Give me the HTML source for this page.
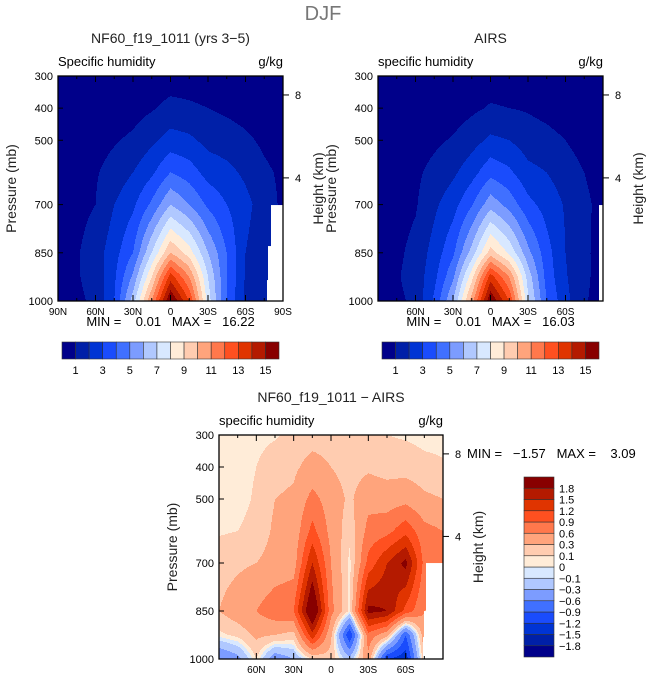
<!DOCTYPE html>
<html><head><meta charset="utf-8"><style>
html,body{margin:0;padding:0;background:#fff;}
svg{display:block;font-family:"Liberation Sans",sans-serif;}
.pre{white-space:pre;}
</style></head><body>
<svg id="fig" width="647" height="684" viewBox="0 0 647 684" xmlns="http://www.w3.org/2000/svg">
<text x="323" y="20" font-size="20" fill="#777" text-anchor="middle">DJF</text>
<g id="p1"></g>
<g id="p2"></g>
<g id="p3"></g>
</svg>
<script>
const lats=[90,75,60,45,30,15,0,-15,-30,-45,-60,-75,-90];
const levels=[300,400,500,600,700,850,925,1000];
const modelQ=[
[0.3,0.2,0.2,0.2,0.3,0.4,0.5,0.4,0.3,0.2,0.2,0.1,0.1],
[0.3,0.3,0.3,0.4,0.6,0.9,1.3,1.2,1.0,0.8,0.6,0.4,0.3],
[0.3,0.4,0.6,0.9,1.2,1.8,2.4,2.2,1.7,1.5,1.2,0.8,0.5],
[0.3,0.6,0.9,1.4,2.0,2.8,4.0,3.5,2.6,2.3,1.8,1.2,0.8],
[0.3,0.7,1.0,2.0,2.8,4.2,6.0,5.0,3.8,3.0,2.3,1.5,0.8],
[0.4,0.9,1.5,2.6,4.0,7.0,10,8.5,6.0,4.0,2.0,1.3,0.6],
[0.4,0.9,1.4,2.8,5.2,9.0,13.5,11,7.0,4.0,1.9,1.2,0.6],
[0.5,0.8,1.2,3.0,6.5,11,16.2,13,7.5,4.0,1.8,1.2,0.6]];
const airsQ=[
[0.3,0.2,0.2,0.2,0.3,0.4,0.5,0.4,0.3,0.2,0.2,0.1,0.1],
[0.3,0.3,0.3,0.4,0.5,0.8,1.1,1.0,0.9,0.7,0.5,0.3,0.2],
[0.3,0.4,0.5,0.8,1.1,1.6,2.2,2.0,1.5,1.3,1.0,0.6,0.4],
[0.3,0.5,0.8,1.3,1.8,2.6,3.7,3.2,2.3,2.0,1.5,1.0,0.6],
[0.3,0.6,0.9,1.8,2.6,3.9,5.6,4.6,3.3,2.6,1.9,1.2,0.7],
[0.4,0.8,1.3,2.4,3.8,6.4,9.5,7.8,5.3,3.4,2.0,1.2,0.6],
[0.4,0.9,1.4,2.7,4.8,8.6,13.5,11,6.6,3.6,2.1,1.2,0.6],
[0.5,0.8,1.2,3.2,6.0,10.5,16.0,13,7.2,4.0,2.3,1.1,0.6]];
const diffQ=[
[0.05,0.05,0.05,0.08,0.15,0.2,0.2,0.12,0.12,0.1,0.08,0.05,0.05],
[0.05,0.05,0.1,0.2,0.25,0.4,0.3,0.2,0.25,0.2,0.2,0.15,0.12],
[0.05,0.05,0.12,0.3,0.35,0.7,0.45,0.25,0.5,0.45,0.5,0.35,0.3],
[0.08,0.1,0.15,0.35,0.4,1.0,0.5,0.15,0.7,0.8,1.1,0.7,0.6],
[0.2,0.25,0.3,0.4,0.45,1.5,0.6,0.05,1.0,1.5,1.9,0.8,0.7],
[0.3,0.45,0.6,0.8,0.9,2.3,0.7,0.05,1.9,1.8,1.1,0.6,0.5],
[0.05,0.15,0.35,0.3,0.2,1.4,0.35,-1.2,0.8,0.4,-0.9,0.5,0.5],
[-0.6,-0.4,0.1,-0.5,-0.3,0.1,0.2,-0.2,0.5,-1.2,-1.4,0.3,0.3]];
const qBounds=[1,2,3,4,5,6,7,8,9,10,11,12,13,14,15];
const qLabels=["1","3","5","7","9","11","13","15"];
const dBounds=[-1.8,-1.5,-1.2,-0.9,-0.6,-0.3,-0.1,0,0.1,0.3,0.6,0.9,1.2,1.5,1.8];
const dLabels=["\u22121.8","\u22121.5","\u22121.2","\u22120.9","\u22120.6","\u22120.3","\u22120.1","0","0.1","0.3","0.6","0.9","1.2","1.5","1.8"];
const palette=["#00008a","#0020a8","#0034d4","#1a4cfc","#4070ff","#7c9cff","#b0c8ff","#d8e8ff","#ffecd8","#ffccb0","#ffa47c","#ff784c","#ff5020","#e03400","#b41a00","#880000"];
const pTicks=[300,400,500,700,850,1000];
const NS="http://www.w3.org/2000/svg";
function mk(parent,tag,attrs,txt){const e=document.createElementNS(NS,tag);for(const k in attrs)e.setAttribute(k,attrs[k]);if(txt!==undefined)e.textContent=txt;parent.appendChild(e);return e;}
function lerpIdx(arr,v){for(let i=0;i<arr.length-1;i++){const a=arr[i],b=arr[i+1];if((v-a)*(v-b)<=0){return [i,(v-a)/(b-a)];}}return v<arr[0]===arr[0]<arr[1]?[0,0]:[arr.length-2,1];}
function field(grid,lat,p){const [j,fx]=lerpIdx(lats,lat);const [i,fy]=lerpIdx(levels,p);
 const a=grid[i][j],b=grid[i][j+1],c=grid[i+1][j],d=grid[i+1][j+1];
 return a*(1-fx)*(1-fy)+b*fx*(1-fy)+c*(1-fx)*fy+d*fx*fy;}
function cls(bounds,v){let k=0;while(k<bounds.length&&v>=bounds[k])k++;return k;}
function panel(g,cfg){
 const {x0,y0,w,h,grid,bounds,mask}=cfg;
 const xOf=lat=>x0+(90-lat)/180*w, yOf=p=>y0+(p-300)/700*h;
 const cg=mk(g,'g',{});
 
 
 for(let y=0;y<h;y+=1){
  const p=300+(y+0.5)/h*700;let start=0,cur=-1;
  for(let x=0;x<=w;x++){let c=-2;
   if(x<w){const lat=90-(x+0.5)/w*180;let masked=false;for(const m of mask){if(lat<m[0]&&p>m[1])masked=true;}
    c=masked?-1:cls(bounds,field(grid,lat,p));}
   if(x===0){cur=c;start=0;continue;}
   if(c!==cur){if(cur>=0){const r=mk(cg,'rect',{x:x0+start,y:y0+y,width:x-start,height:1.05,fill:palette[cur]});
     
     }
    cur=c;start=x;}
  }
 }
 mk(g,'rect',{x:x0,y:y0,width:w,height:h,fill:'none',stroke:'#000','stroke-width':1.3});
 for(const p of pTicks){const y=yOf(p);mk(g,'line',{x1:x0,x2:x0+5,y1:y,y2:y,stroke:'#000'});
  const t=mk(g,'text',{x:x0-5,y:y+4,'font-size':11,'text-anchor':'end'},String(p));
  }
 for(let lat=75;lat>=-75;lat-=15){const x=xOf(lat);const L=(lat%30===0)?6:3;
  mk(g,'line',{x1:x,x2:x,y1:y0,y2:y0+L,stroke:'#000'});mk(g,'line',{x1:x,x2:x,y1:y0+h,y2:y0+h-L,stroke:'#000'});}
 for(const lab of cfg.xlabels){const lat=lab==="0"?0:(lab.endsWith("N")?1:-1)*parseInt(lab);
  const t=mk(g,'text',{x:xOf(lat),y:y0+h+14,'font-size':10,'text-anchor':'middle'},lab);
  }
 for(const [km,p] of [["8",359],["4",617]]){const y=yOf(p);mk(g,'line',{x1:x0+w,x2:x0+w+6,y1:y,y2:y,stroke:'#000'});
  mk(g,'text',{x:x0+w+12,y:y+4,'font-size':11},km);}
 const yl=mk(g,'text',{x:0,y:0,'font-size':14,'text-anchor':'middle',fill:'#222',transform:`translate(${x0-42},${y0+h/2}) rotate(-90)`},'Pressure (mb)');
 
 const hl=mk(g,'text',{x:0,y:0,'font-size':14,'text-anchor':'middle',fill:'#222',transform:`translate(${x0+w+40},${y0+h/2}) rotate(-90)`},'Height (km)');
 
 mk(g,'text',{x:x0,y:y0-10,'font-size':13},cfg.sub);
 mk(g,'text',{x:x0+w,y:y0-10,'font-size':13,'text-anchor':'end'},'g/kg');
 const tt=mk(g,'text',{x:x0+w/2,y:y0-33,'font-size':14,'text-anchor':'middle',fill:'#222'},cfg.title);
 
}
function hbar(g,x0,y0,w,h,mn,mx){
 const bw=w/16;
 for(let i=0;i<16;i++){const r=mk(g,'rect',{x:x0+i*bw,y:y0,width:bw,height:h,fill:palette[i],stroke:'#333','stroke-width':0.6});
  }
 qLabels.forEach((l,k)=>{mk(g,'text',{x:x0+(1+2*k)*bw,y:y0+h+15,'font-size':11,'text-anchor':'middle'},l);});
 mk(g,'text',{x:x0+w/2,y:y0-16,'font-size':13,'text-anchor':'middle','class':'pre'},`MIN =    ${mn}   MAX =   ${mx}`);
}
panel(document.getElementById('p1'),{x0:58,y0:76,w:225,h:225,grid:modelQ,bounds:qBounds,mask:[[-80,700],[-78,830],[-77,935]],xlabels:["90N","60N","30N","0","30S","60S","90S"],sub:'Specific humidity',title:'NF60_f19_1011 (yrs 3\u22125)'});
hbar(document.getElementById('p1'),62,342,217,17,'0.01','16.22');
panel(document.getElementById('p2'),{x0:378,y0:76,w:225,h:225,grid:airsQ,bounds:qBounds,mask:[[-87,700]],xlabels:["60N","30N","0","30S","60S"],sub:'specific humidity',title:'AIRS'});
hbar(document.getElementById('p2'),382,342,217,17,'0.01','16.03');
const g3=document.getElementById('p3');
panel(g3,{x0:219,y0:435,w:224,h:224,grid:diffQ,bounds:dBounds,mask:[[-76,700],[-75,850],[-74,930]],xlabels:["60N","30N","0","30S","60S"],sub:'specific humidity',title:'NF60_f19_1011 \u2212 AIRS'});
mk(g3,'text',{x:467,y:458,'font-size':13,'class':'pre'},'MIN =   \u22121.57   MAX =    3.09');
const cbx=524,cby=477,cbw=30,cbh=180,bh=cbh/16;
for(let i=0;i<16;i++){const r=mk(g3,'rect',{x:cbx,y:cby+(15-i)*bh,width:cbw,height:bh,fill:palette[i],stroke:'#333','stroke-width':0.6});
 }
dLabels.forEach((l,k)=>{mk(g3,'text',{x:cbx+cbw+5,y:cby+(15-k)*bh+4,'font-size':11},l);});
</script>
</body></html>
